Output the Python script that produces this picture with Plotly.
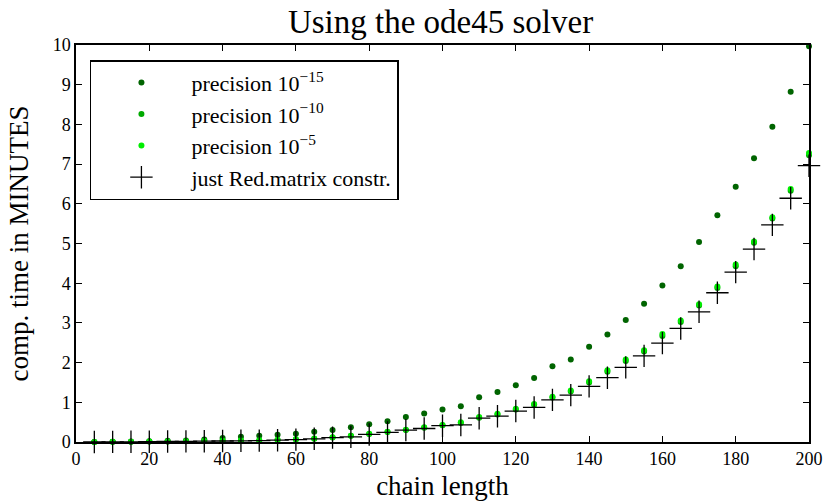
import plotly.graph_objects as go

# chain lengths 5, 10, ..., 200
chain_length = [5, 10, 15, 20, 25, 30, 35, 40, 45, 50,
                55, 60, 65, 70, 75, 80, 85, 90, 95, 100,
                105, 110, 115, 120, 125, 130, 135, 140, 145, 150,
                155, 160, 165, 170, 175, 180, 185, 190, 195, 200]

# computation time in minutes
prec_1e15 = [0.003, 0.005, 0.01, 0.02, 0.03, 0.04, 0.06, 0.10, 0.13, 0.16,
             0.18, 0.21, 0.26, 0.30, 0.37, 0.45, 0.52, 0.63, 0.72, 0.82,
             0.90, 1.13, 1.26, 1.43, 1.61, 1.91, 2.08, 2.40, 2.71, 3.07,
             3.48, 3.94, 4.43, 5.04, 5.71, 6.43, 7.15, 7.94, 8.82, 9.97]

prec_1e10 = [0.002, 0.004, 0.006, 0.01, 0.015, 0.02, 0.025, 0.03, 0.035, 0.04,
             0.05, 0.065, 0.085, 0.115, 0.155, 0.20, 0.25, 0.30, 0.36, 0.42,
             0.48, 0.61, 0.69, 0.82, 0.94, 1.12, 1.27, 1.50, 1.77, 2.04,
             2.28, 2.67, 3.02, 3.44, 3.88, 4.43, 5.02, 5.63, 6.33, 7.22]

prec_1e5 = [0.002, 0.004, 0.006, 0.01, 0.015, 0.02, 0.025, 0.03, 0.035, 0.045,
            0.055, 0.07, 0.09, 0.12, 0.16, 0.21, 0.26, 0.31, 0.37, 0.43,
            0.50, 0.63, 0.71, 0.84, 0.96, 1.14, 1.30, 1.53, 1.81, 2.08,
            2.31, 2.72, 3.06, 3.47, 3.92, 4.47, 5.05, 5.66, 6.37, 7.28]

red_matrix = [0.001, 0.003, 0.005, 0.008, 0.012, 0.016, 0.02, 0.025, 0.03, 0.035,
              0.045, 0.06, 0.08, 0.11, 0.13, 0.19, 0.24, 0.30, 0.34, 0.41,
              0.43, 0.60, 0.65, 0.78, 0.87, 1.06, 1.18, 1.40, 1.62, 1.88,
              2.17, 2.49, 2.86, 3.28, 3.76, 4.28, 4.86, 5.47, 6.14, 6.96]

FONT = "Liberation Serif"

fig = go.Figure()

fig.add_trace(go.Scatter(
    x=chain_length, y=prec_1e15, mode="markers",
    name="precision 10<sup>\u221215</sup>",
    marker=dict(color="#006400", size=6, line=dict(width=0)),
    cliponaxis=False,
))
fig.add_trace(go.Scatter(
    x=chain_length, y=prec_1e10, mode="markers",
    name="precision 10<sup>\u221210</sup>",
    marker=dict(color="#00aa00", size=6, line=dict(width=0)),
    cliponaxis=False,
))
fig.add_trace(go.Scatter(
    x=chain_length, y=prec_1e5, mode="markers",
    name="precision 10<sup>\u22125</sup>",
    marker=dict(color="#00ee00", size=6, line=dict(width=0)),
    cliponaxis=False,
))
fig.add_trace(go.Scatter(
    x=chain_length, y=red_matrix, mode="markers",
    name="just Red.matrix constr.",
    marker=dict(symbol="cross-thin", color="black", size=16,
                line=dict(width=1.3, color="black")),
    cliponaxis=False,
))

axis_common = dict(
    showline=True, linecolor="black", linewidth=1.5, mirror="ticks",
    ticks="inside", ticklen=6, tickwidth=1.2, tickcolor="black",
    showgrid=False, zeroline=False, automargin=False,
    tickfont=dict(family=FONT, size=18, color="black"),
)

fig.update_layout(
    width=825, height=504,
    margin=dict(l=76, r=16, t=45, b=62),
    paper_bgcolor="white", plot_bgcolor="white",
    font=dict(family=FONT, color="black"),
    title=dict(text="Using the ode45 solver", x=0.534, xanchor="center",
               y=0.958, yanchor="middle",
               font=dict(family=FONT, size=33, color="black")),
    xaxis=dict(range=[0, 200], tickvals=list(range(0, 201, 20)),
               title=dict(text="chain length", standoff=8,
                          font=dict(family=FONT, size=27, color="black")),
               **axis_common),
    yaxis=dict(range=[0, 10], tickvals=list(range(0, 11)),
               title=dict(text="comp. time in MINUTES", standoff=16,
                          font=dict(family=FONT, size=27, color="black")),
               **axis_common),
    legend=dict(x=0.019, y=0.962, xanchor="left", yanchor="top",
                bgcolor="white", bordercolor="black", borderwidth=1.5,
                font=dict(family=FONT, size=22, color="black"),
                itemwidth=90, tracegroupgap=0),
    showlegend=True,
)

fig.write_html("out.html")
